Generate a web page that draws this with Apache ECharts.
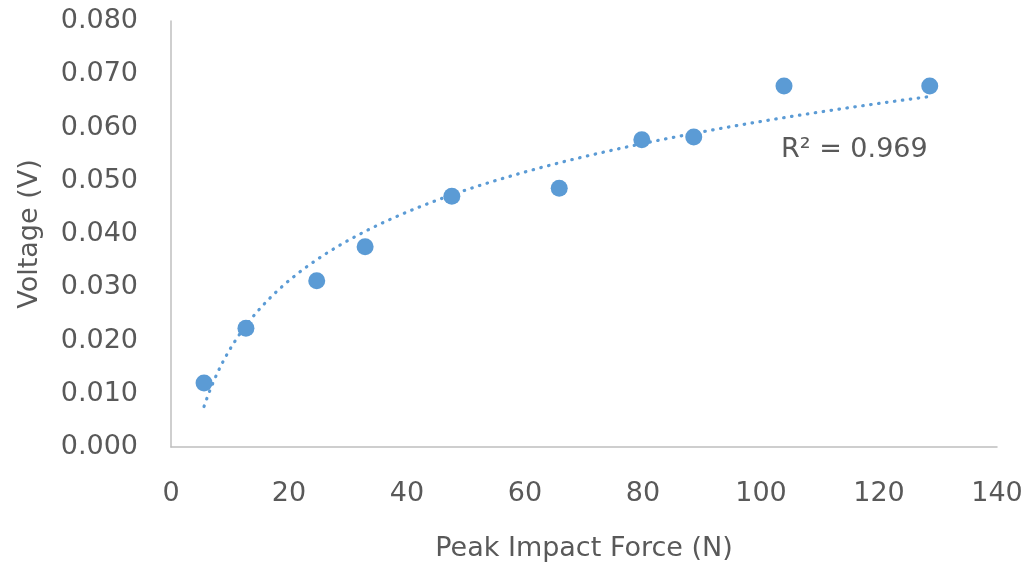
<!DOCTYPE html>
<html>
<head>
<meta charset="utf-8">
<script src="https://cdn.jsdelivr.net/npm/echarts@6/dist/echarts.min.js"></script>
<style>html,body{margin:0;padding:0;background:#fff}#c{width:1032px;height:571px}</style>
</head>
<body>
<div id="c"></div>
<script>
const forceN = [5.6, 12.7, 24.7, 32.9, 47.6, 65.8, 79.8, 88.6, 103.9, 128.6];
const voltageV = [0.0120, 0.0223, 0.0312, 0.0376, 0.0471, 0.0486, 0.0577, 0.0582, 0.0678, 0.0678];
const xTicks = [0, 20, 40, 60, 80, 100, 120, 140];
const yTicks = [0.000, 0.010, 0.020, 0.030, 0.040, 0.050, 0.060, 0.070, 0.080];
const r2Label = 'R² = 0.969';

// logarithmic least-squares trendline fitted to the data (as in the original)
const lx = forceN.map(Math.log);
const n = forceN.length;
const mx = lx.reduce((a, b) => a + b, 0) / n;
const my = voltageV.reduce((a, b) => a + b, 0) / n;
let sxy = 0, sxx = 0;
for (let i = 0; i < n; i++) { sxy += (lx[i] - mx) * (voltageV[i] - my); sxx += (lx[i] - mx) ** 2; }
const slope = sxy / sxx, icpt = my - slope * mx;
const xmin = Math.min(...forceN), xmax = Math.max(...forceN);
const trend = [];
for (let k = 0; k <= 200; k++) {
  const x = xmin + (xmax - xmin) * k / 200;
  trend.push([x, slope * Math.log(x) + icpt]);
}

const font = '"DejaVu Sans", sans-serif';
const fs = 27;
const chart = echarts.init(document.getElementById('c'));
chart.setOption({
  animation: false,
  grid: { left: 171, right: 35, top: 21, bottom: 124, containLabel: false },
  xAxis: {
    type: 'value', min: xTicks[0], max: xTicks[xTicks.length - 1], interval: 20,
    name: 'Peak Impact Force (N)', nameLocation: 'middle', nameGap: 88,
    nameTextStyle: { color: '#595959', fontSize: fs, fontFamily: font },
    axisLine: { show: true, lineStyle: { color: '#bfbfbf', width: 1.5 } },
    axisTick: { show: false }, splitLine: { show: false },
    axisLabel: { color: '#595959', fontSize: fs, fontFamily: font, margin: 33 }
  },
  yAxis: {
    type: 'value', min: yTicks[0], max: yTicks[yTicks.length - 1], interval: 0.01,
    name: 'Voltage (V)', nameLocation: 'middle', nameGap: 128,
    nameTextStyle: { color: '#595959', fontSize: fs, fontFamily: font },
    axisLine: { show: true, lineStyle: { color: '#bfbfbf', width: 1.5 } },
    axisTick: { show: false }, splitLine: { show: false },
    axisLabel: { color: '#595959', fontSize: fs, fontFamily: font, margin: 33,
      formatter: v => v.toFixed(3) }
  },
  series: [
    {
      type: 'line', data: trend, showSymbol: false, smooth: false, z: 1,
      lineStyle: { color: '#5b9bd5', width: 3.2, type: [0.5, 7.5], cap: 'round' }
    },
    {
      type: 'scatter', data: forceN.map((x, i) => [x, voltageV[i]]), symbolSize: 17, z: 2,
      itemStyle: { color: '#5b9bd5', opacity: 1 }
    }
  ],
  graphic: [{
    type: 'text', left: 781, top: 136,
    style: { text: r2Label, fill: '#595959', fontSize: fs, fontFamily: font }
  }]
});
</script>
</body>
</html>
